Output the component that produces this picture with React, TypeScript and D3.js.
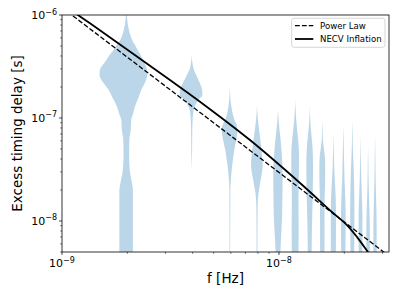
import * as d3 from 'd3';

// violin centres: harmonics of 1/T
const freqs = [1.98e-9, 3.96e-9, 5.94e-9, 7.92e-9, 9.9e-9, 1.188e-8, 1.386e-8, 1.584e-8, 1.782e-8, 1.98e-8, 2.178e-8, 2.376e-8, 2.574e-8, 2.772e-8];

// violin profiles: [delay (s), relative density]
const violins: [number, number][][] = [
  [[1.12e-6, 0], [1.0e-6, 0.02], [8.9e-7, 0.04], [7.15e-7, 0.11], [5.7e-7, 0.26], [5.1e-7, 0.39], [4.57e-7, 0.51], [4.09e-7, 0.66], [3.66e-7, 0.77], [3.27e-7, 0.9], [2.92e-7, 0.99], [2.62e-7, 1.0], [2.34e-7, 0.94], [2.09e-7, 0.82], [1.87e-7, 0.69], [1.67e-7, 0.6], [1.5e-7, 0.51], [1.34e-7, 0.41], [1.07e-7, 0.28], [9.57e-8, 0.21], [7.66e-8, 0.19], [6.13e-8, 0.13], [4.38e-8, 0.12], [3.13e-8, 0.15], [2.24e-8, 0.26], [2.0e-8, 0.29], [4.2e-9, 0.29]],
  [[4.09e-7, 0], [3.27e-7, 0.09], [2.92e-7, 0.2], [2.62e-7, 0.4], [2.34e-7, 0.6], [2.09e-7, 0.8], [1.87e-7, 0.95], [1.67e-7, 0.97], [1.5e-7, 0.6], [1.34e-7, 0.33], [1.2e-7, 0.17], [9.57e-8, 0.08], [7.66e-8, 0.05], [4.9e-8, 0.035], [3.13e-8, 0]],
  [[2.09e-7, 0], [1.5e-7, 0.08], [1.2e-7, 0.26], [9.57e-8, 0.6], [8.56e-8, 0.9], [7.66e-8, 1.0], [6.13e-8, 0.84], [4.9e-8, 0.58], [3.92e-8, 0.39], [3.13e-8, 0.23], [2.51e-8, 0.13], [2.0e-8, 0.06], [5.26e-9, 0.04], [4.7e-9, 0]],
  [[1.34e-7, 0], [1.07e-7, 0.09], [8.56e-8, 0.26], [6.85e-8, 0.48], [5.48e-8, 0.69], [4.38e-8, 0.89], [3.51e-8, 1.0], [3.13e-8, 0.93], [2.51e-8, 0.65], [2.0e-8, 0.35], [1.79e-8, 0.22], [1.28e-8, 0.1], [4.2e-9, 0.07]],
  [[1.2e-7, 0], [9.57e-8, 0.13], [7.66e-8, 0.32], [6.13e-8, 0.56], [4.9e-8, 0.75], [3.92e-8, 0.9], [2.8e-8, 1.0], [1.79e-8, 0.96], [1.15e-8, 0.9], [7.35e-9, 0.69], [5.26e-9, 0.54], [4.2e-9, 0.45]],
  [[1.5e-7, 0], [1.2e-7, 0.1], [9.57e-8, 0.26], [7.66e-8, 0.51], [6.13e-8, 0.77], [4.9e-8, 0.95], [3.92e-8, 1.0], [2.51e-8, 0.93], [1.61e-8, 0.85], [9.2e-9, 0.9], [5.26e-9, 0.87], [4.2e-9, 0.82]],
  [[1.34e-7, 0], [9.57e-8, 0.15], [7.66e-8, 0.36], [6.13e-8, 0.66], [4.9e-8, 0.9], [3.51e-8, 1.0], [2.24e-8, 0.96], [1.44e-8, 0.84], [9.2e-9, 0.69], [5.9e-9, 0.6], [4.2e-9, 0.54]],
  [[9.57e-8, 0], [7.66e-8, 0.1], [6.13e-8, 0.2], [4.9e-8, 0.62], [3.92e-8, 0.96], [3.13e-8, 1.0], [2.24e-8, 0.95], [1.61e-8, 0.8], [9.2e-9, 0.78], [5.26e-9, 0.75], [4.2e-9, 0.72]],
  [[6.85e-8, 0], [4.9e-8, 0.15], [3.51e-8, 0.27], [2.51e-8, 0.54], [1.79e-8, 0.85], [1.28e-8, 1.0], [7.35e-9, 1.0], [4.2e-9, 0.93]],
  [[8.56e-8, 0], [6.13e-8, 0.13], [3.92e-8, 0.3], [2.51e-8, 0.51], [1.61e-8, 0.86], [1.03e-8, 1.0], [5.9e-9, 0.94], [4.2e-9, 0.86]],
  [[9.57e-8, 0], [6.85e-8, 0.14], [4.9e-8, 0.28], [3.51e-8, 0.57], [2.24e-8, 0.85], [1.28e-8, 1.0], [6.6e-9, 0.94], [4.2e-9, 0.85]],
  [[6.85e-8, 0], [4.38e-8, 0.15], [2.8e-8, 0.36], [1.79e-8, 0.67], [1.15e-8, 0.98], [6.6e-9, 0.98], [4.2e-9, 0.88]],
  [[5.48e-8, 0], [3.51e-8, 0.17], [2.24e-8, 0.33], [1.44e-8, 0.67], [9.2e-9, 0.95], [5.26e-9, 1.0], [4.2e-9, 0.95]],
  [[6.85e-8, 0], [4.38e-8, 0.18], [2.51e-8, 0.36], [1.61e-8, 0.66], [9.2e-9, 0.96], [5.26e-9, 1.0], [4.2e-9, 0.96]],
];

const powerLaw: [number, number][] = [[1e-9, 1.18e-6], [3.5e-8, 3.99e-9]];
const necv: [number, number][] = [[1e-9, 1.29e-6], [1.185e-9, 1e-6], [1.346e-9, 8.3e-7], [3.145e-9, 2.34e-7], [4.325e-9, 1.44e-7], [7.35e-9, 6.11e-8], [1.25e-8, 2.34e-8], [1.774e-8, 1.197e-8], [2.057e-8, 9.14e-9], [2.3e-8, 6.9e-9], [2.57e-8, 5.0e-9], [2.74e-8, 4.17e-9]];

const xMajor = [1e-9, 1e-8];
const xMajorLabels = ['−9', '−8'];
const yMajor = [1e-8, 1e-7, 1e-6];
const yMajorLabels = ['−8', '−7', '−6'];

const W = 399, H = 299;
const margin = { left: 62, right: 10, top: 15, bottom: 47 };
const HALF_WIDTH = 0.49e-9; // Hz, violin half-width at density 1
const FONT = 'DejaVu Sans, sans-serif';

export default function App() {
  const x = d3.scaleLog().domain([1e-9, 3.214e-8]).range([margin.left, W - margin.right]);
  const y = d3.scaleLog().domain([5e-9, 1e-6]).range([H - margin.bottom, margin.top]);
  const [x0, x1] = x.range();
  const [y1, y0] = y.range();

  const violinArea = (f: number) =>
    d3.area<[number, number]>()
      .y(d => y(d[0]))
      .x0(d => x(f - HALF_WIDTH * d[1]))
      .x1(d => x(f + HALF_WIDTH * d[1]))
      .curve(d3.curveMonotoneY);

  const line = d3.line<[number, number]>().x(d => x(d[0])).y(d => y(d[1])).curve(d3.curveCatmullRom);

  const xMinor = x.ticks().filter(t => !xMajor.some(m => Math.abs(m - t) / m < 1e-6));
  const yMinor = y.ticks().filter(t => !yMajor.some(m => Math.abs(m - t) / m < 1e-6));

  return (
    <svg width={W} height={H} style={{ position: 'absolute', left: 0, top: 0, background: '#fff' }} fontFamily={FONT}>
      <defs>
        <clipPath id="plot">
          <rect x={x0} y={y0} width={x1 - x0} height={y1 - y0} />
        </clipPath>
      </defs>
      <g clipPath="url(#plot)">
        {freqs.map((f, i) => (
          <path key={i} d={violinArea(f)(violins[i]) ?? ''} fill="#1f77b4" fillOpacity={0.3} />
        ))}
        <path d={line(powerLaw) ?? ''} fill="none" stroke="#000" strokeWidth={1.3} strokeDasharray="4.8,2.1" />
        <path d={line(necv) ?? ''} fill="none" stroke="#000" strokeWidth={1.8} />
      </g>

      {/* frame */}
      <rect x={x0} y={y0} width={x1 - x0} height={y1 - y0} fill="none" stroke="#000" strokeWidth={0.8} />

      {/* x ticks */}
      {xMinor.map((t, i) => (
        <line key={'xm' + i} x1={x(t)} x2={x(t)} y1={y1} y2={y1 + 1.8} stroke="#000" strokeWidth={0.55} />
      ))}
      {xMajor.map((t, i) => (
        <g key={'xM' + i}>
          <line x1={x(t)} x2={x(t)} y1={y1} y2={y1 + 3} stroke="#000" strokeWidth={0.7} />
          <text x={x(t)} y={y1 + 15} textAnchor="middle" fontSize={11}>
            <tspan>10</tspan>
            <tspan dy={-4.5} fontSize={8}>{xMajorLabels[i]}</tspan>
          </text>
        </g>
      ))}

      {/* y ticks */}
      {yMinor.map((t, i) => (
        <line key={'ym' + i} x1={x0 - 1.8} x2={x0} y1={y(t)} y2={y(t)} stroke="#000" strokeWidth={0.55} />
      ))}
      {yMajor.map((t, i) => (
        <g key={'yM' + i}>
          <line x1={x0 - 3} x2={x0} y1={y(t)} y2={y(t)} stroke="#000" strokeWidth={0.7} />
          <text x={x0 - 5} y={y(t) + 4} textAnchor="end" fontSize={11}>
            <tspan>10</tspan>
            <tspan dy={-4.5} fontSize={8}>{yMajorLabels[i]}</tspan>
          </text>
        </g>
      ))}

      {/* axis labels */}
      <text x={(x0 + x1) / 2} y={283} textAnchor="middle" fontSize={13.5}>f [Hz]</text>
      <text transform={`translate(22,${(y0 + y1) / 2}) rotate(-90)`} textAnchor="middle" fontSize={13.5}>Excess timing delay [s]</text>

      {/* legend */}
      <g>
        <rect x={291.7} y={18.3} width={93.3} height={29} rx={2.5} fill="#fff" fillOpacity={0.8} stroke="#cccccc" strokeWidth={0.8} />
        <line x1={295} x2={313.3} y1={25.7} y2={25.7} stroke="#000" strokeWidth={1.3} strokeDasharray="4.8,2.1" />
        <text x={320} y={28.8} fontSize={8.6}>Power Law</text>
        <line x1={295} x2={313.3} y1={39} y2={39} stroke="#000" strokeWidth={1.8} />
        <text x={320} y={42.1} fontSize={8.6}>NECV Inflation</text>
      </g>
    </svg>
  );
}
